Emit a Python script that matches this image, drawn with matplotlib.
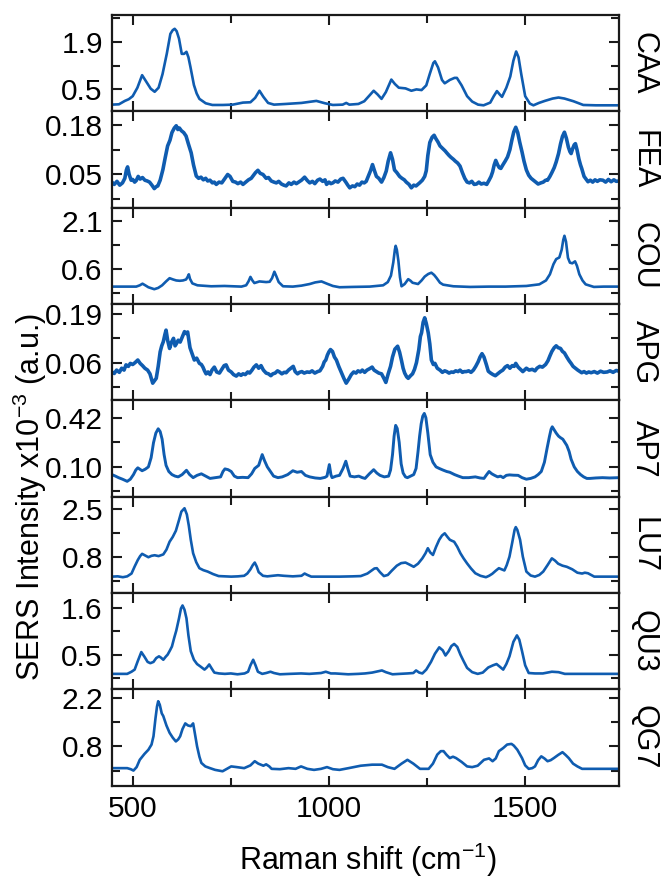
import matplotlib
matplotlib.use("Agg")
import matplotlib.pyplot as plt
from matplotlib.ticker import MultipleLocator, FormatStrFormatter

plt.rcParams['font.family'] = ['Liberation Sans', 'DejaVu Sans']
plt.rcParams['mathtext.fontset'] = 'custom'
plt.rcParams['mathtext.rm'] = 'Liberation Sans'
plt.rcParams['mathtext.it'] = 'Liberation Sans'

# ---------------- data ----------------
labels = ["CAA", "FEA", "COU", "APG", "AP7", "LU7", "QU3", "QG7"]

caa_x = [447, 465, 480, 490, 500, 512, 524, 535, 546, 556, 566, 576, 587, 596, 602, 607, 612, 618, 625, 631, 637, 642, 647, 656, 663, 670, 686, 703, 730, 755, 781, 800, 812, 823, 833, 845, 860, 890, 930, 968, 990, 1010, 1035, 1044, 1052, 1075, 1090, 1104, 1114, 1124, 1134, 1145, 1159, 1168, 1178, 1195, 1210, 1223, 1236, 1248, 1257, 1266, 1270, 1278, 1288, 1295, 1308, 1320, 1326, 1338, 1352, 1365, 1380, 1394, 1411, 1420, 1428, 1436, 1441, 1452, 1462, 1470, 1477, 1483, 1490, 1500, 1512, 1521, 1535, 1550, 1570, 1585, 1600, 1623, 1648, 1680, 1710, 1739]
caa_y = [0.05, 0.06, 0.16, 0.21, 0.30, 0.55, 0.92, 0.72, 0.52, 0.43, 0.55, 0.95, 1.56, 2.14, 2.25, 2.29, 2.22, 2.00, 1.55, 1.55, 1.61, 1.45, 1.17, 0.63, 0.38, 0.22, 0.09, 0.04, 0.04, 0.05, 0.11, 0.12, 0.25, 0.46, 0.28, 0.10, 0.05, 0.07, 0.10, 0.16, 0.09, 0.04, 0.05, 0.10, 0.05, 0.07, 0.15, 0.33, 0.46, 0.35, 0.22, 0.42, 0.79, 0.66, 0.55, 0.53, 0.46, 0.50, 0.48, 0.62, 0.96, 1.28, 1.33, 1.15, 0.78, 0.68, 0.78, 0.84, 0.84, 0.62, 0.30, 0.14, 0.05, 0.03, 0.11, 0.30, 0.45, 0.34, 0.28, 0.55, 0.88, 1.35, 1.62, 1.45, 0.95, 0.30, 0.08, 0.03, 0.10, 0.16, 0.23, 0.26, 0.23, 0.15, 0.04, 0.03, 0.03, 0.03]

fea_x = [447, 453, 460, 467, 474, 480, 484, 487, 491, 496, 500, 505, 509, 514, 519, 525, 531, 537, 543, 549, 555, 560, 564, 570, 577, 583, 589, 595, 600, 606, 611, 615, 619, 624, 630, 636, 642, 649, 655, 662, 668, 674, 680, 686, 691, 697, 703, 708, 713, 720, 727, 735, 742, 748, 755, 762, 768, 775, 781, 788, 795, 802, 808, 813, 819, 825, 832, 840, 846, 853, 860, 866, 872, 879, 885, 891, 898, 904, 911, 917, 923, 930, 938, 945, 951, 958, 964, 971, 977, 984, 990, 994, 1000, 1005, 1010, 1016, 1023, 1030, 1036, 1043, 1048, 1053, 1060, 1066, 1072, 1078, 1084, 1090, 1095, 1100, 1106, 1111, 1116, 1121, 1127, 1134, 1140, 1146, 1151, 1157, 1162, 1167, 1173, 1180, 1186, 1192, 1197, 1204, 1210, 1216, 1222, 1231, 1238, 1244, 1248, 1252, 1257, 1263, 1268, 1272, 1278, 1283, 1290, 1296, 1300, 1306, 1311, 1317, 1322, 1328, 1334, 1340, 1346, 1352, 1358, 1364, 1370, 1376, 1382, 1388, 1395, 1402, 1408, 1413, 1417, 1421, 1425, 1430, 1434, 1438, 1443, 1449, 1455, 1461, 1466, 1471, 1476, 1481, 1486, 1492, 1497, 1503, 1509, 1515, 1521, 1527, 1533, 1540, 1546, 1552, 1557, 1563, 1568, 1574, 1579, 1585, 1590, 1595, 1600, 1605, 1610, 1614, 1617, 1621, 1625, 1628, 1632, 1637, 1641, 1644, 1650, 1655, 1660, 1666, 1672, 1678, 1684, 1690, 1698, 1705, 1712, 1719, 1726, 1732, 1739]
fea_y = [0.030, 0.024, 0.032, 0.022, 0.028, 0.040, 0.062, 0.070, 0.050, 0.035, 0.037, 0.030, 0.034, 0.045, 0.038, 0.042, 0.035, 0.033, 0.030, 0.022, 0.013, 0.018, 0.020, 0.035, 0.063, 0.095, 0.125, 0.140, 0.160, 0.172, 0.178, 0.168, 0.172, 0.165, 0.160, 0.151, 0.130, 0.107, 0.075, 0.046, 0.040, 0.043, 0.036, 0.040, 0.033, 0.035, 0.028, 0.030, 0.024, 0.030, 0.028, 0.040, 0.050, 0.045, 0.032, 0.030, 0.026, 0.030, 0.024, 0.030, 0.036, 0.040, 0.048, 0.055, 0.061, 0.053, 0.050, 0.040, 0.042, 0.033, 0.030, 0.028, 0.032, 0.025, 0.022, 0.020, 0.028, 0.024, 0.030, 0.026, 0.030, 0.035, 0.043, 0.034, 0.028, 0.032, 0.026, 0.035, 0.038, 0.032, 0.036, 0.024, 0.030, 0.026, 0.028, 0.033, 0.030, 0.038, 0.040, 0.030, 0.022, 0.015, 0.020, 0.018, 0.025, 0.022, 0.030, 0.028, 0.032, 0.045, 0.060, 0.076, 0.060, 0.045, 0.040, 0.030, 0.042, 0.059, 0.085, 0.107, 0.090, 0.062, 0.055, 0.045, 0.040, 0.036, 0.030, 0.024, 0.015, 0.022, 0.020, 0.028, 0.035, 0.045, 0.060, 0.100, 0.134, 0.148, 0.153, 0.145, 0.135, 0.125, 0.118, 0.112, 0.107, 0.100, 0.095, 0.090, 0.085, 0.080, 0.072, 0.055, 0.040, 0.030, 0.028, 0.032, 0.024, 0.025, 0.030, 0.025, 0.027, 0.024, 0.035, 0.045, 0.057, 0.075, 0.087, 0.075, 0.068, 0.066, 0.075, 0.085, 0.096, 0.115, 0.140, 0.162, 0.174, 0.160, 0.135, 0.109, 0.085, 0.062, 0.048, 0.040, 0.035, 0.030, 0.025, 0.028, 0.030, 0.035, 0.035, 0.045, 0.055, 0.068, 0.083, 0.105, 0.130, 0.150, 0.161, 0.145, 0.122, 0.110, 0.105, 0.118, 0.128, 0.131, 0.115, 0.090, 0.075, 0.066, 0.045, 0.038, 0.031, 0.035, 0.030, 0.036, 0.032, 0.036, 0.035, 0.030, 0.037, 0.031, 0.036, 0.032, 0.033]

cou_x = [447, 480, 509, 518, 525, 532, 540, 555, 565, 575, 585, 594, 603, 611, 620, 628, 636, 640, 643, 646, 652, 665, 700, 734, 777, 789, 795, 800, 805, 810, 823, 840, 849, 855, 861, 866, 872, 883, 908, 930, 951, 965, 981, 995, 1010, 1027, 1060, 1104, 1138, 1150, 1158, 1164, 1168, 1170, 1173, 1177, 1181, 1185, 1193, 1202, 1208, 1213, 1227, 1236, 1244, 1253, 1261, 1268, 1274, 1283, 1291, 1317, 1360, 1407, 1450, 1503, 1536, 1553, 1563, 1572, 1579, 1587, 1593, 1597, 1600, 1604, 1609, 1614, 1620, 1627, 1632, 1638, 1646, 1654, 1675, 1700, 1739]
cou_y = [0.06, 0.06, 0.06, 0.10, 0.15, 0.10, 0.04, -0.02, 0.02, 0.10, 0.22, 0.32, 0.28, 0.25, 0.24, 0.25, 0.28, 0.36, 0.44, 0.30, 0.16, 0.10, 0.07, 0.08, 0.06, 0.10, 0.22, 0.36, 0.25, 0.17, 0.22, 0.20, 0.21, 0.32, 0.52, 0.38, 0.20, 0.07, 0.06, 0.09, 0.14, 0.19, 0.22, 0.15, 0.08, 0.04, 0.05, 0.06, 0.10, 0.20, 0.40, 0.81, 1.20, 1.32, 1.20, 0.85, 0.35, 0.07, 0.14, 0.29, 0.24, 0.18, 0.14, 0.25, 0.37, 0.45, 0.49, 0.42, 0.33, 0.18, 0.12, 0.07, 0.05, 0.06, 0.06, 0.08, 0.13, 0.25, 0.44, 0.75, 0.91, 0.96, 1.20, 1.50, 1.63, 1.45, 0.95, 0.80, 0.78, 0.84, 0.70, 0.44, 0.25, 0.13, 0.05, 0.06, 0.06]

apg_x = [447, 453, 459, 466, 472, 478, 483, 489, 494, 500, 506, 513, 519, 525, 531, 538, 544, 551, 556, 560, 565, 570, 574, 578, 582, 585, 589, 594, 599, 604, 608, 611, 616, 621, 626, 632, 636, 640, 643, 646, 651, 657, 663, 670, 675, 679, 683, 687, 692, 697, 702, 708, 714, 721, 727, 733, 738, 744, 751, 757, 764, 770, 776, 781, 787, 793, 798, 804, 809, 815, 821, 827, 833, 840, 846, 852, 857, 863, 869, 874, 880, 886, 891, 897, 903, 909, 914, 920, 925, 931, 937, 944, 951, 957, 964, 971, 977, 984, 988, 992, 996, 1000, 1004, 1009, 1014, 1019, 1025, 1032, 1038, 1044, 1050, 1057, 1063, 1069, 1074, 1080, 1085, 1091, 1097, 1104, 1110, 1115, 1121, 1127, 1134, 1140, 1145, 1151, 1157, 1162, 1168, 1175, 1180, 1185, 1189, 1193, 1198, 1202, 1208, 1213, 1218, 1223, 1229, 1233, 1236, 1240, 1244, 1248, 1253, 1257, 1261, 1266, 1270, 1276, 1283, 1289, 1295, 1300, 1306, 1312, 1317, 1323, 1329, 1334, 1340, 1345, 1350, 1356, 1362, 1368, 1374, 1380, 1385, 1390, 1395, 1401, 1406, 1412, 1418, 1424, 1430, 1437, 1443, 1449, 1455, 1461, 1467, 1472, 1476, 1482, 1488, 1494, 1503, 1510, 1518, 1525, 1530, 1537, 1544, 1552, 1558, 1563, 1568, 1574, 1579, 1584, 1590, 1595, 1600, 1606, 1612, 1617, 1622, 1628, 1634, 1640, 1644, 1650, 1656, 1662, 1668, 1676, 1684, 1692, 1700, 1709, 1716, 1724, 1732, 1739]
apg_y = [0.035, 0.031, 0.040, 0.034, 0.045, 0.040, 0.054, 0.050, 0.058, 0.055, 0.060, 0.067, 0.058, 0.052, 0.045, 0.040, 0.030, 0.005, 0.012, 0.018, 0.050, 0.089, 0.105, 0.116, 0.135, 0.147, 0.120, 0.098, 0.115, 0.125, 0.105, 0.110, 0.120, 0.115, 0.128, 0.143, 0.138, 0.142, 0.120, 0.100, 0.085, 0.067, 0.072, 0.058, 0.055, 0.048, 0.038, 0.030, 0.035, 0.028, 0.040, 0.048, 0.035, 0.032, 0.042, 0.052, 0.054, 0.040, 0.035, 0.028, 0.024, 0.030, 0.026, 0.030, 0.028, 0.035, 0.032, 0.040, 0.048, 0.054, 0.045, 0.052, 0.040, 0.032, 0.030, 0.025, 0.030, 0.032, 0.038, 0.035, 0.030, 0.034, 0.033, 0.040, 0.045, 0.050, 0.036, 0.030, 0.034, 0.036, 0.032, 0.035, 0.034, 0.038, 0.032, 0.036, 0.038, 0.050, 0.062, 0.067, 0.080, 0.089, 0.095, 0.090, 0.075, 0.067, 0.050, 0.033, 0.018, 0.005, 0.015, 0.028, 0.035, 0.032, 0.038, 0.035, 0.040, 0.034, 0.040, 0.044, 0.048, 0.040, 0.036, 0.032, 0.030, 0.018, 0.007, 0.030, 0.050, 0.075, 0.096, 0.104, 0.088, 0.065, 0.045, 0.032, 0.022, 0.018, 0.025, 0.030, 0.042, 0.060, 0.095, 0.130, 0.140, 0.168, 0.180, 0.165, 0.140, 0.110, 0.067, 0.055, 0.058, 0.045, 0.040, 0.034, 0.038, 0.036, 0.032, 0.035, 0.034, 0.038, 0.036, 0.040, 0.034, 0.036, 0.036, 0.038, 0.034, 0.040, 0.050, 0.062, 0.075, 0.084, 0.075, 0.055, 0.037, 0.032, 0.028, 0.025, 0.030, 0.036, 0.040, 0.048, 0.052, 0.045, 0.052, 0.050, 0.058, 0.048, 0.042, 0.036, 0.045, 0.040, 0.042, 0.038, 0.045, 0.050, 0.048, 0.055, 0.065, 0.078, 0.090, 0.100, 0.105, 0.100, 0.098, 0.090, 0.086, 0.075, 0.065, 0.058, 0.050, 0.045, 0.040, 0.036, 0.033, 0.036, 0.032, 0.035, 0.033, 0.036, 0.032, 0.037, 0.034, 0.035, 0.038, 0.034, 0.039, 0.037]

ap7_x = [447, 456, 464, 474, 486, 494, 502, 508, 513, 518, 524, 532, 540, 547, 553, 559, 565, 570, 575, 580, 585, 592, 600, 608, 616, 626, 637, 645, 654, 664, 675, 686, 697, 710, 724, 730, 735, 743, 751, 759, 767, 780, 794, 803, 811, 821, 830, 836, 843, 851, 859, 870, 881, 895, 908, 919, 930, 940, 951, 965, 978, 990, 995, 1001, 1005, 1008, 1018, 1027, 1036, 1043, 1048, 1054, 1065, 1076, 1085, 1092, 1103, 1114, 1122, 1130, 1141, 1152, 1157, 1162, 1166, 1170, 1174, 1179, 1184, 1189, 1195, 1200, 1208, 1216, 1222, 1227, 1231, 1235, 1239, 1243, 1247, 1252, 1258, 1265, 1273, 1281, 1290, 1300, 1308, 1320, 1330, 1341, 1356, 1373, 1385, 1395, 1402, 1408, 1415, 1422, 1430, 1437, 1444, 1452, 1460, 1470, 1482, 1492, 1503, 1514, 1525, 1533, 1541, 1549, 1556, 1562, 1566, 1569, 1574, 1579, 1585, 1590, 1596, 1601, 1606, 1612, 1617, 1625, 1633, 1641, 1649, 1657, 1665, 1680, 1697, 1715, 1739]
ap7_y = [0.050, 0.040, 0.030, 0.020, 0.006, 0.020, 0.050, 0.080, 0.094, 0.085, 0.075, 0.085, 0.100, 0.160, 0.257, 0.320, 0.348, 0.330, 0.280, 0.180, 0.110, 0.070, 0.050, 0.040, 0.035, 0.050, 0.078, 0.050, 0.030, 0.045, 0.055, 0.040, 0.025, 0.030, 0.035, 0.070, 0.087, 0.082, 0.070, 0.040, 0.030, 0.032, 0.030, 0.055, 0.090, 0.110, 0.180, 0.140, 0.100, 0.070, 0.040, 0.030, 0.035, 0.050, 0.075, 0.065, 0.070, 0.045, 0.035, 0.028, 0.025, 0.032, 0.040, 0.115, 0.050, 0.030, 0.040, 0.045, 0.090, 0.137, 0.090, 0.040, 0.035, 0.040, 0.030, 0.025, 0.055, 0.082, 0.060, 0.045, 0.035, 0.040, 0.080, 0.180, 0.300, 0.370, 0.350, 0.260, 0.120, 0.060, 0.035, 0.030, 0.040, 0.050, 0.090, 0.200, 0.300, 0.380, 0.430, 0.448, 0.420, 0.320, 0.180, 0.130, 0.100, 0.090, 0.080, 0.070, 0.065, 0.050, 0.040, 0.030, 0.030, 0.035, 0.028, 0.025, 0.050, 0.070, 0.055, 0.045, 0.035, 0.040, 0.030, 0.045, 0.048, 0.046, 0.045, 0.030, 0.020, 0.025, 0.035, 0.050, 0.070, 0.130, 0.224, 0.300, 0.345, 0.361, 0.340, 0.320, 0.300, 0.290, 0.280, 0.260, 0.240, 0.200, 0.150, 0.100, 0.070, 0.050, 0.035, 0.025, 0.025, 0.028, 0.030, 0.028, 0.030]

lu7_x = [447, 462, 475, 486, 497, 505, 513, 519, 524, 532, 540, 548, 556, 566, 578, 586, 594, 602, 610, 618, 624, 632, 638, 643, 648, 654, 662, 670, 680, 691, 705, 719, 735, 751, 768, 784, 792, 800, 806, 811, 816, 821, 832, 843, 856, 870, 885, 908, 930, 938, 945, 955, 968, 1000, 1027, 1060, 1081, 1098, 1108, 1116, 1122, 1130, 1140, 1150, 1160, 1173, 1184, 1195, 1205, 1216, 1227, 1238, 1246, 1252, 1258, 1265, 1273, 1281, 1288, 1295, 1302, 1308, 1314, 1319, 1327, 1335, 1343, 1352, 1362, 1373, 1386, 1400, 1408, 1416, 1425, 1433, 1440, 1447, 1453, 1460, 1467, 1473, 1476, 1480, 1487, 1494, 1503, 1514, 1525, 1536, 1546, 1557, 1568, 1576, 1584, 1595, 1606, 1620, 1633, 1645, 1652, 1660, 1668, 1676, 1700, 1739]
lu7_y = [0.09, 0.10, 0.07, 0.10, 0.20, 0.45, 0.68, 0.82, 0.90, 0.84, 0.78, 0.83, 0.85, 0.82, 0.88, 1.05, 1.33, 1.50, 1.72, 2.10, 2.40, 2.52, 2.30, 1.90, 1.40, 0.92, 0.60, 0.39, 0.32, 0.27, 0.18, 0.11, 0.10, 0.09, 0.10, 0.12, 0.20, 0.35, 0.50, 0.59, 0.45, 0.25, 0.12, 0.10, 0.12, 0.14, 0.12, 0.10, 0.12, 0.20, 0.15, 0.09, 0.09, 0.09, 0.09, 0.10, 0.11, 0.20, 0.30, 0.38, 0.39, 0.25, 0.11, 0.15, 0.30, 0.48, 0.57, 0.59, 0.52, 0.44, 0.55, 0.74, 0.92, 1.10, 0.95, 0.86, 1.15, 1.40, 1.55, 1.63, 1.50, 1.40, 1.36, 1.33, 1.15, 0.92, 0.74, 0.56, 0.38, 0.21, 0.12, 0.07, 0.12, 0.19, 0.30, 0.39, 0.35, 0.31, 0.50, 0.80, 1.30, 1.75, 1.85, 1.75, 1.40, 0.80, 0.27, 0.13, 0.09, 0.15, 0.27, 0.50, 0.74, 0.66, 0.55, 0.48, 0.44, 0.35, 0.23, 0.20, 0.23, 0.21, 0.15, 0.09, 0.09, 0.09]

qu3_x = [447, 470, 486, 497, 505, 513, 522, 530, 538, 545, 553, 560, 567, 572, 578, 584, 589, 595, 600, 606, 611, 618, 623, 627, 632, 637, 642, 648, 656, 664, 673, 683, 689, 695, 701, 708, 720, 735, 750, 767, 785, 794, 800, 807, 813, 819, 830, 840, 851, 860, 875, 900, 929, 950, 980, 992, 1005, 1016, 1049, 1075, 1092, 1110, 1125, 1135, 1145, 1162, 1180, 1200, 1215, 1222, 1230, 1238, 1248, 1260, 1270, 1281, 1290, 1297, 1305, 1312, 1319, 1327, 1335, 1343, 1352, 1365, 1379, 1392, 1406, 1418, 1427, 1435, 1444, 1452, 1460, 1470, 1479, 1485, 1492, 1500, 1509, 1525, 1545, 1568, 1585, 1601, 1650, 1700, 1739]
qu3_y = [0.05, 0.05, 0.05, 0.10, 0.15, 0.35, 0.56, 0.45, 0.33, 0.30, 0.33, 0.42, 0.46, 0.43, 0.38, 0.45, 0.50, 0.60, 0.69, 0.90, 1.06, 1.35, 1.58, 1.65, 1.55, 1.35, 0.95, 0.58, 0.38, 0.28, 0.22, 0.15, 0.20, 0.27, 0.18, 0.08, 0.06, 0.05, 0.06, 0.04, 0.06, 0.10, 0.25, 0.38, 0.25, 0.10, 0.05, 0.07, 0.10, 0.07, 0.04, 0.05, 0.06, 0.05, 0.07, 0.10, 0.06, 0.06, 0.04, 0.05, 0.06, 0.08, 0.11, 0.13, 0.09, 0.04, 0.05, 0.06, 0.07, 0.13, 0.08, 0.06, 0.15, 0.33, 0.52, 0.67, 0.60, 0.48, 0.58, 0.70, 0.75, 0.68, 0.50, 0.35, 0.19, 0.09, 0.05, 0.08, 0.20, 0.25, 0.28, 0.22, 0.15, 0.28, 0.46, 0.80, 0.95, 0.85, 0.58, 0.25, 0.07, 0.06, 0.06, 0.10, 0.09, 0.05, 0.05, 0.05, 0.05]

qg7_x = [447, 470, 486, 495, 502, 510, 518, 530, 540, 548, 553, 558, 562, 565, 569, 574, 578, 586, 594, 602, 610, 616, 621, 627, 634, 641, 648, 654, 658, 664, 670, 675, 685, 697, 710, 729, 740, 751, 765, 784, 800, 811, 820, 833, 840, 848, 854, 875, 897, 915, 929, 945, 962, 980, 995, 1010, 1027, 1050, 1081, 1110, 1135, 1150, 1167, 1185, 1200, 1215, 1232, 1254, 1265, 1276, 1285, 1292, 1300, 1308, 1316, 1324, 1338, 1352, 1365, 1379, 1395, 1408, 1417, 1425, 1433, 1444, 1454, 1465, 1471, 1480, 1492, 1500, 1509, 1518, 1525, 1533, 1541, 1549, 1557, 1565, 1573, 1584, 1595, 1603, 1611, 1622, 1633, 1645, 1654, 1700, 1739]
qg7_y = [0.17, 0.17, 0.17, 0.14, 0.10, 0.20, 0.41, 0.58, 0.70, 0.85, 1.09, 1.60, 1.95, 2.10, 2.00, 1.75, 1.67, 1.40, 1.19, 1.05, 0.94, 1.00, 1.09, 1.30, 1.46, 1.40, 1.38, 1.46, 1.20, 0.80, 0.50, 0.32, 0.22, 0.17, 0.12, 0.08, 0.15, 0.22, 0.20, 0.17, 0.25, 0.37, 0.30, 0.24, 0.28, 0.22, 0.15, 0.14, 0.17, 0.15, 0.22, 0.15, 0.12, 0.15, 0.20, 0.14, 0.12, 0.17, 0.24, 0.27, 0.27, 0.20, 0.15, 0.30, 0.41, 0.30, 0.15, 0.15, 0.30, 0.56, 0.66, 0.66, 0.55, 0.46, 0.50, 0.46, 0.35, 0.22, 0.20, 0.24, 0.41, 0.45, 0.37, 0.45, 0.66, 0.75, 0.85, 0.87, 0.82, 0.70, 0.46, 0.25, 0.15, 0.17, 0.22, 0.40, 0.51, 0.45, 0.37, 0.40, 0.46, 0.55, 0.63, 0.55, 0.46, 0.30, 0.22, 0.15, 0.15, 0.15, 0.15]

# y axis: major ticks shown on each panel, limits, decimals
y_major = [[0.5, 1.9], [0.05, 0.18], [0.6, 2.1], [0.06, 0.19],
           [0.10, 0.42], [0.8, 2.5], [0.5, 1.6], [0.8, 2.2]]
y_lims = [(-0.146, 2.70), (-0.037, 0.216), (-0.477, 2.50), (-0.041, 0.217),
          (-0.094, 0.533), (-0.494, 2.93), (-0.314, 1.94), (-0.339, 2.44)]
y_fmt = ["%.1f", "%.2f", "%.1f", "%.2f", "%.2f", "%.1f", "%.1f", "%.1f"]
x_ticks = [500, 1000, 1500]
x_lim = (447, 1740)

series = [(caa_x, caa_y), (fea_x, fea_y), (cou_x, cou_y), (apg_x, apg_y),
          (ap7_x, ap7_y), (lu7_x, lu7_y), (qu3_x, qu3_y), (qg7_x, qg7_y)]
line_w = [1.9, 2.6, 1.9, 2.6, 2.1, 1.9, 1.9, 1.9]

# ---------------- figure ----------------
color = '#0f5cb0'
fig = plt.figure(figsize=(6.66, 8.77), dpi=100)
axes = fig.subplots(8, 1, sharex=True,
                    gridspec_kw=dict(hspace=0, left=0.168, right=0.930,
                                     top=0.983, bottom=0.104))

for i, ax in enumerate(axes):
    xs, ys = series[i]
    ax.plot(xs, ys, color=color, lw=line_w[i], solid_joinstyle='round')
    ax.set_xlim(*x_lim)
    ax.set_ylim(*y_lims[i])
    lo, hi = y_major[i]
    step = hi - lo
    ax.yaxis.set_major_locator(MultipleLocator(step, offset=lo))
    ax.yaxis.set_minor_locator(MultipleLocator(step / 2, offset=lo))
    ax.yaxis.set_major_formatter(FormatStrFormatter(y_fmt[i]))
    ax.set_xticks(x_ticks)
    ax.xaxis.set_minor_locator(MultipleLocator(250))
    for sp in ax.spines.values():
        sp.set_linewidth(1.6)
        sp.set_color('#1a1a1a')
    ax.tick_params(which='both', direction='in', top=True, right=True,
                   width=1.5, color='#1a1a1a')
    ax.tick_params(which='major', length=7.5)
    ax.tick_params(which='minor', length=5.5)
    ax.tick_params(axis='both', which='major', labelsize=21.5, pad=6.5)
    ax.text(1.048, 0.5, labels[i], transform=ax.transAxes, rotation=-90,
            ha='center', va='center', fontsize=22)
    if i < 7:
        ax.tick_params(axis='x', labelbottom=False)

fig.text(0.552, 0.020, r'Raman shift (cm$^{-1}$)', ha='center', va='center',
         fontsize=22)
fig.text(0.045, 0.433, r'SERS Intensity x10$^{-3}$ (a.u.)', ha='center',
         va='center', rotation=90, fontsize=22)

fig.savefig('out.png', dpi=100)
